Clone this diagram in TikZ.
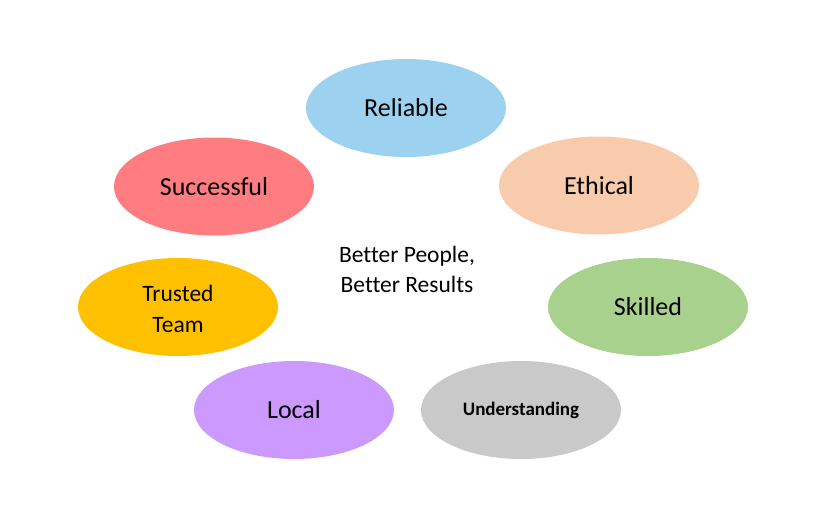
\documentclass[tikz,border=0pt]{standalone}
\usepackage{fontspec}
\setmainfont{Carlito}[RawFeature={-liga;-clig;-calt;-dlig}]
\usetikzlibrary{shapes.geometric}
\definecolor{cRel}{HTML}{9DD1F0}
\definecolor{cEth}{HTML}{F8CBAD}
\definecolor{cSki}{HTML}{A9D18E}
\definecolor{cUnd}{HTML}{C9C9C9}
\definecolor{cLoc}{HTML}{CC99FF}
\definecolor{cTru}{HTML}{FFC000}
\definecolor{cSuc}{HTML}{FF7C80}
\tikzset{
  oval/.style={ellipse, draw=none, minimum width=200pt, minimum height=98pt, inner sep=0pt, align=center, text=black},
  bigtxt/.style={font=\fontsize{26}{31}\selectfont},
  midtxt/.style={font=\fontsize{23.5}{31}\selectfont},
  smalltxt/.style={font=\bfseries\fontsize{19}{23}\selectfont}
}
\begin{document}
\begin{tikzpicture}[x=1pt,y=-1pt]
\useasboundingbox (0,0) rectangle (823,523);
\node[oval, fill=cRel, bigtxt] (rel) at (406,108) {Reliable};
\node[oval, fill=cEth, bigtxt] (eth) at (599,185.5) {Ethical};
\node[oval, fill=cSki, bigtxt] (ski) at (648,307) {Skilled};
\node[oval, fill=cUnd, smalltxt] (und) at (521,410) {Understanding};
\node[oval, fill=cLoc, bigtxt] (loc) at (294,410) {Local};
\node[oval, fill=cTru] (tru) at (178,307) {};
\node[midtxt, align=center] (trutxt) at (178,309) {Trusted\\Team};
\node[oval, fill=cSuc, bigtxt] (suc) at (214,186.5) {Successful};
\node[align=center, font=\fontsize{23.5}{30}\selectfont] (ctr) at (407,269) {Better People,\\Better Results};
\end{tikzpicture}
\end{document}
